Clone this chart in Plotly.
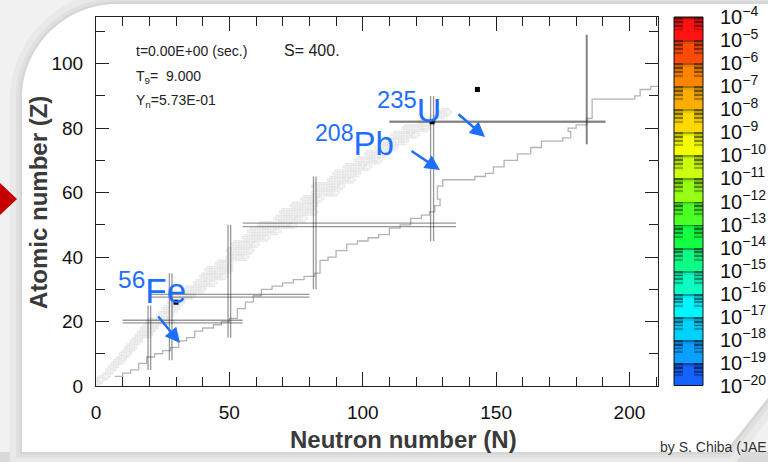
import numpy as np
import plotly.graph_objects as go

# ---------------- data ----------------
# stable-nuclide band: proton number Z with lowest / highest neutron number N
band_Z = [1, 2, 3, 4, 5, 6, 7, 8, 9, 10,
          11, 12, 13, 14, 15, 16, 17, 18, 19, 20,
          21, 22, 23, 24, 25, 26, 27, 28, 29, 30,
          31, 32, 33, 34, 35, 36, 37, 38, 39, 40,
          41, 42,
          44, 45, 46, 47, 48, 49, 50,
          51, 52, 53, 54, 55, 56, 57, 58, 59, 60,
          62, 63, 64, 65, 66, 67, 68, 69, 70,
          71, 72, 73, 74, 75, 76, 77, 78, 79, 80,
          81, 82, 83, 84, 85]
band_Nmin = [0, 1, 3, 5, 5, 6, 7, 8, 10, 10,
             12, 12, 14, 14, 16, 16, 18, 18, 20, 20,
             24, 24, 27, 26, 30, 28, 32, 30, 34, 34,
             38, 38, 42, 40, 44, 42, 48, 46, 50, 50,
             52, 50,
             52, 58, 56, 60, 58, 64, 62,
             70, 68, 74, 70, 78, 74, 81, 78, 82, 82,
             82, 88, 88, 94, 90, 98, 94, 100, 98,
             104, 102, 107, 106, 110, 108, 114, 112, 118, 116,
             122, 122, 126, 128, 130]
band_Nmax = [1, 2, 4, 5, 6, 7, 8, 10, 10, 12,
             12, 14, 14, 16, 16, 20, 20, 22, 22, 28,
             24, 28, 28, 30, 30, 32, 32, 36, 36, 40,
             40, 44, 42, 48, 46, 50, 50, 50, 50, 56,
             52, 58,
             60, 58, 64, 62, 68, 66, 74,
             72, 78, 74, 82, 78, 82, 82, 84, 82, 90,
             92, 90, 96, 94, 98, 98, 102, 100, 106,
             105, 108, 108, 112, 112, 116, 116, 120, 118, 124,
             124, 126, 126, 130, 132]

# neutron drip line (grey staircase)
drip_N = [7, 10, 13, 16, 19, 22, 25, 28, 31, 34,
          37, 40, 44, 47, 50, 53, 56, 59, 62, 66,
          70, 74, 78, 82, 84, 84, 87, 90, 94, 98,
          102, 106, 110, 114, 118, 122, 125, 127, 129, 128,
          128, 130, 136, 142, 146, 149, 153, 158, 163, 167,
          175, 178, 177, 180, 184, 186, 186, 195, 202, 204,
          208, 212]
drip_Z = [3, 4, 5, 7, 9, 10, 11, 12, 14, 15,
          17, 18, 19, 20, 21, 24, 26, 28, 30, 31,
          32, 33, 34, 35, 37, 39, 40, 42, 44, 45,
          46, 47, 49, 50, 52, 53, 54, 56, 58, 60,
          62, 64, 64, 65, 66, 68, 70, 72, 74, 76,
          77, 79, 80, 81, 83, 85, 89, 89, 90, 92,
          93, 94]

# magic numbers
magicN = [20, 28, 50, 82, 126, 184]
magicN_Zlo = [5, 8, 15, 30, 45, 75]
magicN_Zhi = [25, 35, 50, 65, 90, 109]
magicZ = [20, 28, 50, 82]
magicZ_Nlo = [10, 20, 55, 110]
magicZ_Nhi = [55, 80, 135, 191]

# highlighted nuclei
nuc_N = [30, 126, 143]
nuc_Z = [26, 82, 92]
nuc_label = ["<sup>56</sup>Fe", "<sup>208</sup>Pb", "<sup>235</sup>U"]

# colour bar (abundance decades)
cb_exponents = list(range(-4, -21, -1))
cb_colors = ['#ff1212', '#ff4a08', '#ff8400', '#ffae00', '#ffd800', '#f6ff00',
             '#ccff10', '#96ff14', '#4cff24', '#14ff44', '#0cff84', '#0cffc0',
             '#00f6ff', '#00d2ff', '#0aa0ff', '#1462ff']

x_ticks = [0, 50, 100, 150, 200]
y_ticks = [0, 20, 40, 60, 80, 100]

# ---------------- geometry helpers ----------------
W, H = 768, 462
ML, MR, MT, MB = 96, 10, 17, 76
PW = W - ML - MR
PH = H - MT - MB
XMAX, YMAX = 210.7, 114.5


def px(x):
    return (x - ML) / PW


def py(y):
    return (H - MB - y) / PH


XPX = (658 - 96) / XMAX   # pixels per N
YPX = PH / YMAX           # pixels per Z

fig = go.Figure()

# stable band
bN, bZ = [], []
for z, n0, n1 in zip(band_Z, band_Nmin, band_Nmax):
    for n in range(n0, n1 + 1):
        bN.append(n)
        bZ.append(z)
fig.add_trace(go.Scatter(x=bN, y=bZ, mode='markers', hoverinfo='skip',
                         marker=dict(symbol='cross', size=6, color='#f4f4f4',
                                     line=dict(color='#dcdcdc', width=0.5))))

# drip line
fig.add_trace(go.Scatter(x=drip_N, y=drip_Z, mode='lines', line_shape='hv',
                         line=dict(color='#b4b4b4', width=1.3), hoverinfo='skip'))

# magic-number lines (double lines)
lc = 'rgba(50,50,50,0.5)'
vsep = [2.6, 2.6, 2.6, 2.6, 3.0, 0.9]
for n, z0, z1, s in zip(magicN, magicN_Zlo, magicN_Zhi, vsep):
    for sgn in (-1, 1):
        xo = n + sgn * s / 2 / XPX
        fig.add_trace(go.Scatter(x=[xo, xo], y=[z0, z1], mode='lines',
                                 line=dict(color=lc, width=1.3), hoverinfo='skip'))
hsep = [2.6, 2.6, 3.6, 1.0]
for z, n0, n1, s in zip(magicZ, magicZ_Nlo, magicZ_Nhi, hsep):
    for sgn in (-1, 1):
        yo = z + sgn * s / 2 / YPX
        fig.add_trace(go.Scatter(x=[n0, n1], y=[yo, yo], mode='lines',
                                 line=dict(color=lc, width=1.3), hoverinfo='skip'))

# highlighted nuclei
fig.add_trace(go.Scatter(x=nuc_N, y=nuc_Z, mode='markers', hoverinfo='skip',
                         marker=dict(symbol='square', size=5, color='black')))

# colour bar as textured image
rows_per = 12
side_f = [0.4, 0.75, 0.45, 0.85, 0.55, 0.92, 0.7, 0.97, 1, 1, 1, 1]
mid_f = [0.65, 0.92, 1, 1, 1, 1, 1, 1, 1, 1, 1, 1]
img = []
for c in cb_colors:
    rgb = np.array([int(c[i:i + 2], 16) for i in (1, 3, 5)], dtype=float)
    for r in range(rows_per):
        row = []
        for col in range(10):
            f = mid_f[r] if 3 <= col <= 6 else side_f[r]
            row.append((rgb * f).astype(int).tolist())
        img.append(row)
img = np.array(img, dtype=np.uint8)
dy = 1.0 / rows_per
fig.add_trace(go.Image(z=img, x0=0.5, dx=1, y0=4 + dy / 2, dy=dy,
                       xaxis='x2', yaxis='y2', hoverinfo='skip'))

tickfont = dict(family='Liberation Sans, Arial, sans-serif', size=19, color='#111')
axcommon = dict(showgrid=False, zeroline=False, showline=True, linecolor='#222',
                linewidth=1, mirror='ticks', ticks='inside', tickcolor='#222',
                tickwidth=1, tickfont=tickfont, automargin=False)
fig.update_layout(
    width=W, height=H, margin=dict(l=ML, r=MR, t=MT, b=MB, autoexpand=False),
    paper_bgcolor='#f1f1f1', plot_bgcolor='rgba(0,0,0,0)', showlegend=False,
    font=dict(family='Liberation Sans, Arial, sans-serif', color='#111'),
    xaxis=dict(domain=[0, px(658)], range=[0, XMAX], tickvals=x_ticks, ticklen=14,
               ticklabelstandoff=9,
               minor=dict(dtick=10, tick0=0, ticks='inside', ticklen=9, tickcolor='#222'),
               anchor='y', **axcommon),
    yaxis=dict(domain=[0, 1], range=[0, YMAX], tickvals=y_ticks, ticklen=13,
               ticklabelstandoff=8,
               minor=dict(dtick=10, tick0=0, ticks='inside', ticklen=9, tickcolor='#222'),
               anchor='x', **axcommon),
    xaxis2=dict(domain=[px(674), px(703)], range=[0, 10], visible=False, anchor='y2',
                automargin=False),
    yaxis2=dict(domain=[0, 1], range=[20, 4], anchor='x2', side='right',
                tickvals=[-e for e in cb_exponents],
                ticktext=['10<sup>\u2212%d</sup>' % (-e) for e in cb_exponents],
                ticks='outside', ticklen=12, tickcolor='rgba(0,0,0,0)',
                showgrid=False, zeroline=False, showline=False,
                scaleanchor=False, automargin=False,
                tickfont=dict(family='Liberation Sans, Arial, sans-serif', size=20, color='#111')),
)

# ---------------- background frame ----------------
shapes = []


def panel(e):
    x0, T, B = 22 - e, 4 - e, 452 + e
    r = 95 + e
    k = 0.5523 * r

    def P(x, y):
        return '%.5f,%.5f' % (px(x), py(y))
    return ('M ' + P(x0, B) + ' L ' + P(x0, T + r) + ' C ' + P(x0, T + r - k) + ' ' +
            P(x0 + r - k, T) + ' ' + P(x0 + r, T) + ' L ' + P(800, T) + ' L ' + P(800, 360) +
            ' L ' + P(790 + 0.78 * e, 370 + 0.62 * e) + ' L ' + P(725 + 0.78 * e, 452 + e) + ' Z')


shapes.append(dict(type='rect', xref='paper', yref='paper', x0=px(-5), x1=px(800),
                   y0=py(470), y1=py(452), fillcolor='#dadada', line_width=0, layer='below'))
for e, col in [(12, '#e9e9e9'), (6, '#e0e0e0'), (2.5, '#d6d6d6'), (0, '#ffffff')]:
    shapes.append(dict(type='path', xref='paper', yref='paper', path=panel(e),
                       fillcolor=col, line_width=0, layer='below'))
# red triangle
shapes.append(dict(type='path', xref='paper', yref='paper',
                   path='M %f,%f L %f,%f L %f,%f Z' % (px(0), py(183), px(17), py(199), px(0), py(215)),
                   fillcolor='#c40000', line_width=0, layer='above'))
# colour bar outline
shapes.append(dict(type='rect', xref='paper', yref='paper', x0=px(674), x1=px(703),
                   y0=py(385.5), y1=py(17), line=dict(color='#111', width=1), layer='above'))
fig.update_layout(shapes=shapes)

# ---------------- annotations ----------------
ann = []
info_font = dict(family='Liberation Sans, Arial, sans-serif', size=14, color='#222')
ann.append(dict(text='t=0.00E+00 (sec.)', x=px(134), y=py(51), xanchor='left', yanchor='middle',
                xref='paper', yref='paper', showarrow=False, font=info_font))
ann.append(dict(text='T<sub>9</sub>=\u00a0 9.000', x=px(134), y=py(77), xanchor='left', yanchor='middle',
                xref='paper', yref='paper', showarrow=False, font=info_font))
ann.append(dict(text='Y<sub>n</sub>=5.73E-01', x=px(134), y=py(101), xanchor='left', yanchor='middle',
                xref='paper', yref='paper', showarrow=False, font=info_font))
ann.append(dict(text='S= 400.', x=px(282), y=py(50), xanchor='left', yanchor='middle',
                xref='paper', yref='paper', showarrow=False,
                font=dict(family='Liberation Sans, Arial, sans-serif', size=16, color='#222')))

blue = '#1e6eff'
label_pos = [(152, 288, 35), (354, 141, 33), (409, 107, 34)]
for t, (lx, ly, fs) in zip(nuc_label, label_pos):
    ann.append(dict(text=t, x=px(lx), y=py(ly), xanchor='center', yanchor='middle',
                    xref='paper', yref='paper', showarrow=False,
                    font=dict(family='Liberation Sans, Arial, sans-serif', size=fs, color=blue)))
arrows = [((157, 315), (180, 343)), ((410, 150), (440, 170)), ((457, 113), (485, 137))]
for (tx, ty), (hx, hy) in arrows:
    ann.append(dict(text='', x=px(hx), y=py(hy), xref='paper', yref='paper',
                    ax=tx - hx, ay=ty - hy, showarrow=True, arrowhead=2, arrowsize=1.2,
                    arrowwidth=2.5, arrowcolor=blue))

ann.append(dict(text='<b>Atomic number (Z)</b>', x=px(38), y=py(203), textangle=-90,
                xref='paper', yref='paper', showarrow=False, xanchor='center', yanchor='middle',
                font=dict(family='Liberation Sans, Arial, sans-serif', size=24, color='#3a3a3a')))
ann.append(dict(text='<b>Neutron number (N)</b>', x=px(403), y=py(439),
                xref='paper', yref='paper', showarrow=False, xanchor='center', yanchor='middle',
                font=dict(family='Liberation Sans, Arial, sans-serif', size=24, color='#3a3a3a')))
ann.append(dict(text='by S. Chiba (JAE', x=px(658), y=py(447), xanchor='left', yanchor='middle',
                xref='paper', yref='paper', showarrow=False,
                font=dict(family='Liberation Sans, Arial, sans-serif', size=14, color='#333')))
fig.update_layout(annotations=ann)

fig.write_html('out.html')
